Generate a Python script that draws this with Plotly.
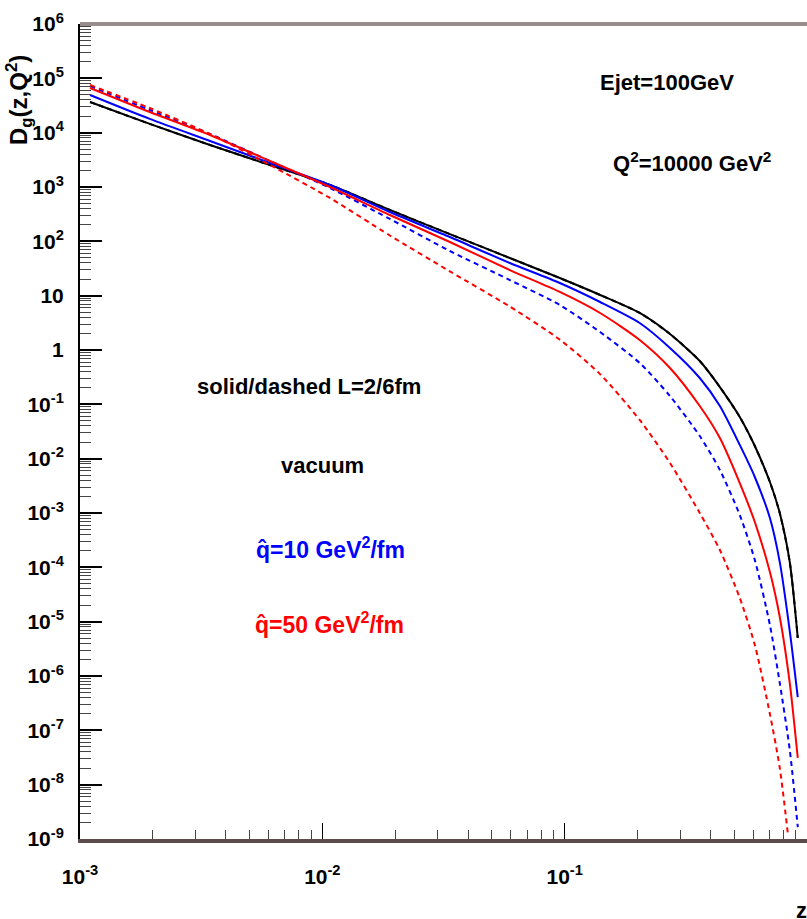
import plotly.graph_objects as go

# ---------------- data ----------------
z_grid = [0.0011, 0.00194, 0.00344, 0.00608, 0.01075, 0.019, 0.0336, 0.0594, 0.0955, 0.14,
          0.204, 0.272, 0.361, 0.437, 0.528, 0.609, 0.703, 0.772, 0.849, 0.916]

# vacuum (same for L=2 and L=6 fm)
D_vac = [3.67e4, 1.45e4, 5.93e3, 2.54e3, 1.09e3, 378, 136, 49.3, 21.1, 10.3,
         4.80, 1.97, 0.628, 0.208, 0.0585, 0.0171, 3.72e-3, 1.0e-3, 1.25e-4, 5.0e-6]
# qhat = 10 GeV^2/fm, L = 2 fm (solid)
D_q10_L2 = [4.93e4, 1.79e4, 7.03e3, 2.77e3, 1.09e3, 347, 120, 39.9, 17.1, 7.65,
            3.14, 1.09, 0.305, 0.0931, 0.0179, 4.60e-3, 8.09e-4, 1.25e-4, 6.73e-6, 4.10e-7]
# qhat = 50 GeV^2/fm, L = 2 fm (solid)
D_q50_L2 = [6.64e4, 2.40e4, 9.06e3, 3.01e3, 1.0e3, 305, 97.3, 29.6, 11.7, 4.80,
            1.53, 0.467, 0.0931, 0.0240, 3.56e-3, 6.82e-4, 8.20e-5, 1.22e-5, 7.43e-7, 3.10e-8]
# qhat = 10 GeV^2/fm, L = 6 fm (dashed)
D_q10_L6 = [7.23e4, 2.61e4, 9.44e3, 3.01e3, 959, 258, 66.4, 19.4, 6.73, 2.14,
            0.577, 0.142, 0.0261, 6.18e-3, 9.18e-4, 1.36e-4, 8.69e-6, 7.43e-7, 4.35e-8, 1.66e-9]
# qhat = 50 GeV^2/fm, L = 6 fm (dashed)
z_q50_L6 = [0.0011, 0.00194, 0.00344, 0.00608, 0.01075, 0.019, 0.0336, 0.0594, 0.0955, 0.14,
            0.204, 0.272, 0.361, 0.437, 0.528, 0.609, 0.703, 0.772, 0.833]
D_q50_L6 = [7.54e4, 2.84e4, 9.44e3, 2.54e3, 628, 128, 28.0, 6.3, 1.55, 0.36,
            0.0515, 8.32e-3, 1.0e-3, 2.08e-4, 2.73e-5, 3.72e-6, 2.0e-7, 2.03e-8, 1.29e-9]

x_tickvals = [1e-3, 1e-2, 1e-1, 1]
x_ticktext = ["10<sup>-3</sup>", "10<sup>-2</sup>", "10<sup>-1</sup>", "1"]
y_exponents = [6, 5, 4, 3, 2, 1, 0, -1, -2, -3, -4, -5, -6, -7, -8, -9]
y_tickvals = [10.0 ** e for e in y_exponents]
y_ticktext = ["10" if e == 1 else ("1" if e == 0 else "10<sup>%d</sup>" % e) for e in y_exponents]

# ---------------- style ----------------
FONT = "Liberation Sans, Arial, sans-serif"
W, H = 807, 919
ML, MR, MT, MB = 80, 0, 24, 80

def px_x(x):
    return (x - ML) / (W - ML - MR)

def px_y(y):
    return (H - MB - y) / (H - MT - MB)

minor_x = [m * 10.0 ** k for k in range(-3, 0) for m in range(2, 10)]
minor_y = [m * 10.0 ** k for k in range(-9, 6) for m in range(2, 10)]

fig = go.Figure()
DASH = "5px,4px"
series = [
    (z_grid, D_vac, "black", "solid"),
    (z_grid, D_vac, "black", DASH),
    (z_grid, D_q10_L2, "#0000ff", "solid"),
    (z_grid, D_q10_L6, "#0000ff", DASH),
    (z_grid, D_q50_L2, "#ff0000", "solid"),
    (z_q50_L6, D_q50_L6, "#ff0000", DASH),
]
for xs, ys, col, dash in series:
    fig.add_trace(go.Scatter(x=xs, y=ys, mode="lines",
                             line=dict(color=col, width=2, dash=dash, shape="spline", smoothing=0.7),
                             showlegend=False, hoverinfo="skip"))

tickfont = dict(family=FONT, size=21, color="black", weight="bold")

fig.update_layout(
    width=W, height=H,
    margin=dict(l=ML, r=MR, t=MT, b=MB),
    paper_bgcolor="white", plot_bgcolor="white",
    showlegend=False,
    xaxis=dict(type="log", range=[-3, 0], tickmode="array", tickvals=x_tickvals, ticktext=x_ticktext,
               ticks="inside", ticklen=16, tickwidth=1, tickcolor="black",
               showline=True, linecolor="#5e4b4b", linewidth=4, mirror=False,
               showgrid=False, zeroline=False, tickfont=tickfont, ticklabelstandoff=16,
               minor=dict(ticks="inside", ticklen=9, tickwidth=1, tickcolor="#444444",
                          tickmode="array", tickvals=minor_x, showgrid=False)),
    yaxis=dict(type="log", range=[-9, 6], tickmode="array", tickvals=y_tickvals, ticktext=y_ticktext,
               ticks="inside", ticklen=22, tickwidth=1.5, tickcolor="black",
               showline=True, linecolor="black", linewidth=2, mirror=False,
               showgrid=False, zeroline=False, tickfont=tickfont, ticklabelstandoff=10,
               minor=dict(ticks="inside", ticklen=11, tickwidth=1, tickcolor="#444444",
                          tickmode="array", tickvals=minor_y, showgrid=False)),
)

# top frame line
fig.add_shape(type="line", xref="paper", yref="paper", x0=0, x1=1, y0=1, y1=1,
              line=dict(color="#978d8d", width=4))

def ann(text, cx, cy, size=22, color="black", angle=0):
    fig.add_annotation(text=text, xref="paper", yref="paper", x=px_x(cx), y=px_y(cy),
                       xanchor="center", yanchor="middle", showarrow=False, textangle=angle,
                       font=dict(family=FONT, size=size, color=color, weight="bold"))

ann("Ejet=100GeV", 667, 82)
ann("Q<sup>2</sup>=10000 GeV<sup>2</sup>", 692, 162)
ann("solid/dashed L=2/6fm", 309, 386)
ann("vacuum", 322, 465)
ann("q\u0302=10 GeV<sup>2</sup>/fm", 330, 548, size=23, color="#0000ff")
ann("q\u0302=50 GeV<sup>2</sup>/fm", 329, 623, size=23, color="#ff0000")
ann("D<sub>g</sub>(z,Q<sup>2</sup>)", 19, 100, size=24, angle=-90)
ann("z", 801, 910, size=22)

fig.write_html("out.html")
